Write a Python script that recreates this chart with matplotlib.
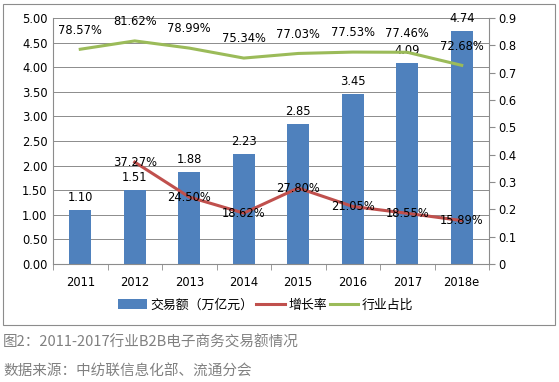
import numpy as np
import matplotlib.pyplot as plt
from matplotlib.patches import Rectangle

plt.rcParams['font.family'] = ['DejaVu Sans', 'Noto Sans CJK SC']

years = ["2011", "2012", "2013", "2014", "2015", "2016", "2017", "2018e"]
volume = [1.10, 1.51, 1.88, 2.23, 2.85, 3.45, 4.09, 4.74]
growth = [None, 0.3727, 0.2450, 0.1862, 0.2780, 0.2105, 0.1855, 0.1589]
share = [0.7857, 0.8162, 0.7899, 0.7534, 0.7703, 0.7753, 0.7746, 0.7268]

blue = "#4F81BD"
red = "#C0504D"
green = "#9BBB59"
fs = 8.3

fig = plt.figure(figsize=(5.59, 3.82), dpi=100)
fig.patches.append(Rectangle((3 / 559, 1 - 325 / 382), 552 / 559, 321 / 382,
                             transform=fig.transFigure, fill=False,
                             edgecolor="#8c8c8c", linewidth=0.8))

ax = fig.add_axes([53 / 559, 1 - 264 / 382, 436 / 559, 246 / 382])
x = np.arange(len(years))
bars = ax.bar(x, volume, width=0.4, color=blue, zorder=2, label="交易额（万亿元）")
ax.set_xlim(-0.5, len(years) - 0.5)
ax.set_ylim(0, 5)
ax.set_yticks(np.arange(0, 5.01, 0.5))
ax.set_yticklabels([f"{v:.2f}" for v in np.arange(0, 5.01, 0.5)], fontsize=fs)
ax.yaxis.grid(True, color="#8c8c8c", linewidth=0.7, zorder=0)
ax.set_axisbelow(True)
ax.set_xticks(x)
ax.set_xticklabels(years, fontsize=fs)
ax.tick_params(axis="x", length=0, pad=9)
ax.tick_params(axis="y", length=0, pad=4)
ax.set_xticks(np.arange(-0.5, len(years), 1), minor=True)
ax.tick_params(axis="x", which="minor", length=4, color="#8c8c8c")
for s in ["top", "right"]:
    ax.spines[s].set_visible(False)
for s in ["left", "bottom"]:
    ax.spines[s].set_color("#8c8c8c")
for xi, v in zip(x, volume):
    ax.text(xi, v + 0.12, f"{v:.2f}", ha="center", va="bottom", fontsize=fs)

ax2 = ax.twinx()
ax2.set_ylim(0, 0.9)
ax2.set_yticks(np.arange(0, 0.91, 0.1))
ax2.set_yticklabels(["0"] + [f"{v:.1f}" for v in np.arange(0.1, 0.91, 0.1)], fontsize=fs)
ax2.tick_params(axis="y", length=4, color="#8c8c8c", pad=3)
for s in ["top", "left", "bottom"]:
    ax2.spines[s].set_visible(False)
ax2.spines["right"].set_color("#8c8c8c")

gx = [xi for xi, g in zip(x, growth) if g is not None]
gy = [g for g in growth if g is not None]
l1, = ax2.plot(gx, gy, color=red, linewidth=2.2, label="增长率", zorder=3)
l2, = ax2.plot(x, share, color=green, linewidth=2.2, label="行业占比", zorder=3)
for xi, g in zip(gx, gy):
    ax2.text(xi, g, f"{g * 100:.2f}%", ha="center", va="center", fontsize=fs, zorder=4)
for xi, s in zip(x, share):
    ax2.text(xi, s + 0.07, f"{s * 100:.2f}%", ha="center", va="center", fontsize=fs, zorder=4)

fig.legend(handles=[bars, l1, l2], loc="center", bbox_to_anchor=(266 / 559, 1 - 305 / 382),
           ncol=3, frameon=False, handlelength=2.2, handletextpad=0.3,
           columnspacing=0.2, prop={"family": ["Noto Sans CJK SC"], "size": 9.3})

fig.text(3 / 559, 1 - 343 / 382, "图2：2011-2017行业B2B电子商务交易额情况",
         fontsize=10.5, color="#808080", va="center", family=["Noto Sans CJK SC"])
fig.text(3 / 559, 1 - 372 / 382, "数据来源：中纺联信息化部、流通分会",
         fontsize=10.5, color="#808080", va="center", family=["Noto Sans CJK SC"])

fig.savefig("out.png", dpi=100)
